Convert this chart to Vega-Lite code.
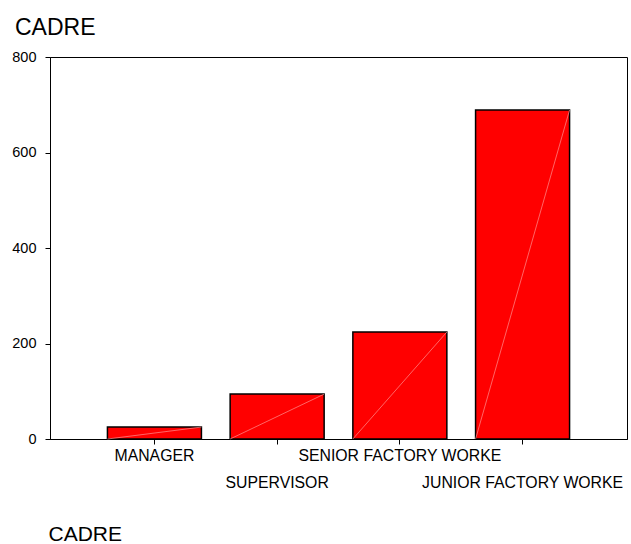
{
  "$schema": "https://vega.github.io/schema/vega-lite/v6.json",
  "width": 577,
  "height": 382,
  "autosize": {"type": "none"},
  "padding": {"left": 50, "top": 57, "right": 4, "bottom": 105},
  "background": "white",
  "config": {
    "font": "Liberation Sans",
    "view": {"stroke": "black", "strokeWidth": 1},
    "axis": {"grid": false, "domainColor": "black", "tickColor": "black", "labelColor": "black", "titleColor": "black", "labelFont": "Liberation Sans", "titleFont": "Liberation Sans"}
  },
  "title": {
    "text": "CADRE",
    "anchor": "start",
    "frame": "group",
    "dx": -35,
    "offset": 9,
    "fontSize": 23,
    "fontWeight": "normal",
    "font": "Liberation Sans",
    "color": "black"
  },
  "data": {
    "values": [
      {"cadre": "MANAGER", "count": 25},
      {"cadre": "SUPERVISOR", "count": 94},
      {"cadre": "SENIOR FACTORY WORKE", "count": 224},
      {"cadre": "JUNIOR FACTORY WORKE", "count": 689}
    ]
  },
  "layer": [
    {
      "mark": {"type": "bar", "color": "#ff0000", "stroke": "black", "strokeWidth": 1.5},
      "encoding": {
        "x": {
          "field": "cadre",
          "type": "nominal",
          "sort": null,
          "scale": {"paddingInner": 0.234, "paddingOuter": 0.468},
          "axis": {
            "title": "CADRE",
            "titleFontSize": 21,
            "titleFontWeight": "normal",
            "titleAnchor": "start",
            "titleAlign": "left",
            "titleBaseline": "alphabetic",
            "titleX": -2,
            "titleY": 101,
            "labelAngle": 0,
            "labelFontSize": 15.8,
            "labelPadding": 4,
            "labelLimit": 0,
            "tickSize": 5,
            "labelLineHeight": 27,
            "labelExpr": "(datum.value == 'SUPERVISOR' || datum.value == 'JUNIOR FACTORY WORKE') ? ['', datum.value] : datum.value"
          }
        },
        "y": {
          "field": "count",
          "type": "quantitative",
          "scale": {"domain": [0, 800], "nice": false},
          "axis": {"title": null, "values": [0, 200, 400, 600, 800], "labelFontSize": 14.5, "tickSize": 5, "labelPadding": 9}
        }
      }
    },
    {
      "mark": {
        "type": "rule",
        "color": "#ff9090",
        "strokeWidth": 0.7
      },
      "encoding": {
        "x": {"field": "cadre", "type": "nominal", "sort": null, "bandPosition": 1},
        "y": {"field": "count", "type": "quantitative"},
        "x2": {"value": {"expr": "scale('x', datum.cadre)"}},
        "y2": {"datum": 0}
      }
    }
  ]
}
